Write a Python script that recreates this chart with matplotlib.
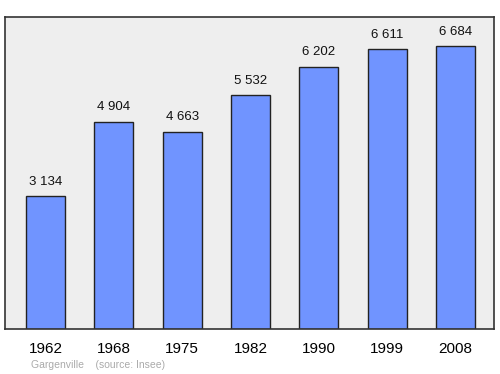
import matplotlib.pyplot as plt
import numpy as np

# data
years = ["1962", "1968", "1975", "1982", "1990", "1999", "2008"]
population = [3134, 4904, 4663, 5532, 6202, 6611, 6684]
labels = ["3 134", "4 904", "4 663", "5 532", "6 202", "6 611", "6 684"]

plt.rcParams['font.family'] = ['Liberation Sans', 'DejaVu Sans']

fig = plt.figure(figsize=(5, 3.74), dpi=100)
ax = fig.add_axes([0.01, 0.1203, 0.978, 0.8342])
ax.set_facecolor('#eeeeee')

x = np.arange(len(years))
ax.bar(x, population, width=0.57, color='#7094ff', edgecolor='#222222', linewidth=1, zorder=2)

for xi, v, lab in zip(x, population, labels):
    ax.annotate(lab, (xi, v), xytext=(0, 6), textcoords='offset points',
                ha='center', va='bottom', fontsize=9.5, color='#111111')

ax.set_xlim(-0.593, 6.563)
ax.set_ylim(0, 7376)
ax.set_xticks(x)
ax.set_xticklabels(years, fontsize=11)
ax.tick_params(axis='x', length=0, pad=9)
ax.set_yticks([])
for s in ax.spines.values():
    s.set_color('#333333')
    s.set_linewidth(1.2)

fig.text(0.062, 0.016, "Gargenville    (source: Insee)", fontsize=7.5, color='#aaaaaa')

fig.savefig('out.png', dpi=100)
